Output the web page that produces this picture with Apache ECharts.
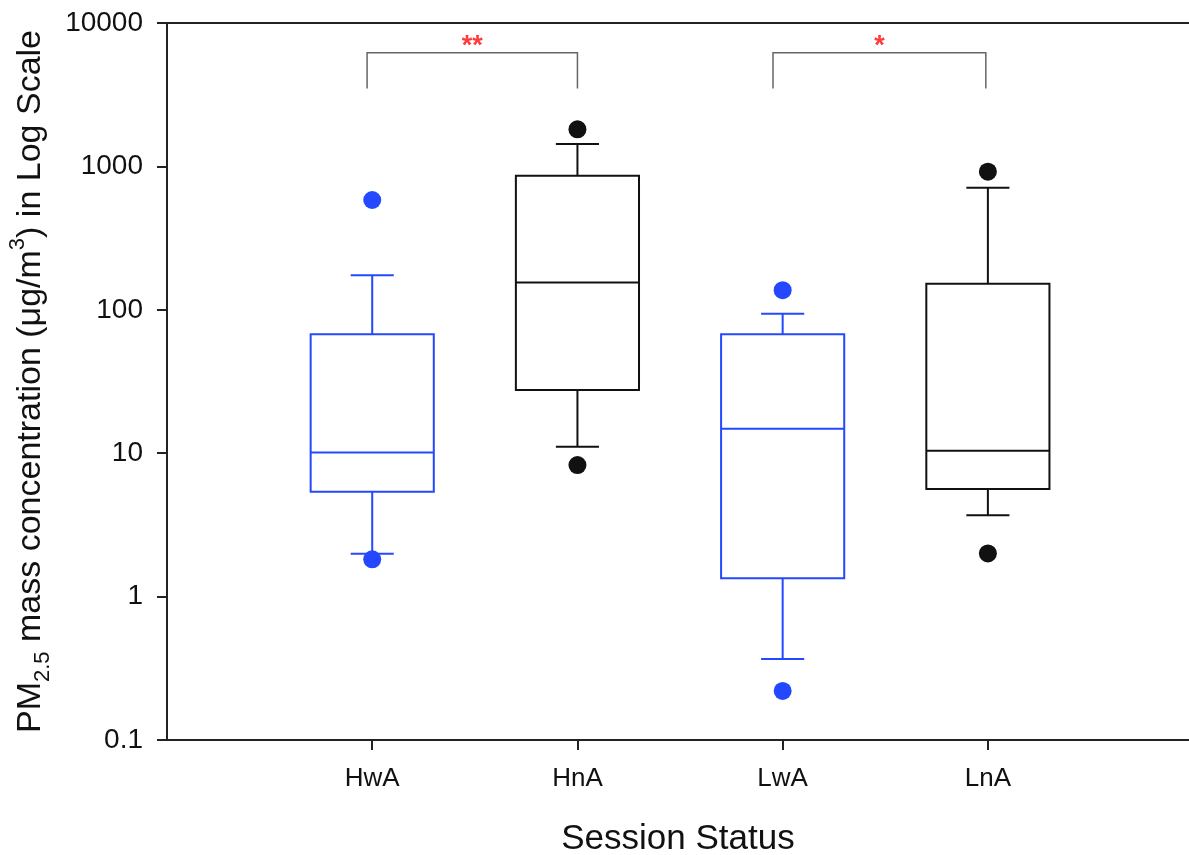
<!DOCTYPE html>
<html>
<head>
<meta charset="utf-8">
<title>PM2.5 by Session Status</title>
<script src="https://cdn.jsdelivr.net/npm/echarts@6/dist/echarts.min.js"></script>
<style>
  html, body { margin: 0; padding: 0; background: #fff; }
  #chart { width: 1189px; height: 855px; }
</style>
</head>
<body>
<div id="chart"></div>
<script>
// Session groups and their box-plot statistics (µg/m³)
const categories = ['HwA', 'HnA', 'LwA', 'LnA'];
const lowerWhisker = [1.99, 11.1, 0.367, 3.69];
const quartile1 = [5.39, 27.6, 1.34, 5.62];
const median = [10.1, 155, 14.8, 10.4];
const quartile3 = [67.5, 861, 67.5, 152];
const upperWhisker = [174, 1432, 94, 710];
const outlierLow = [1.82, 8.27, 0.22, 2.0];
const outlierHigh = [583, 1815, 137, 918];

// Significance brackets: [from, to] group positions, bracket top and leg ends, label
const sigSpans = [[0.975, 2.0], [2.953, 3.99]];
const sigTop = [6210, 6210];
const sigLegEnd = [3500, 3500];
const sigLabels = ['**', '*'];

const BLUE = '#2448ff';
const BLACK = '#111111';
const groupColors = [BLUE, BLACK, BLUE, BLACK];
const BOX_W = 0.6;   // box width in group units
const CAP_W = 0.21;  // whisker cap width in group units
const FONT = '"Liberation Sans", Arial, Helvetica, sans-serif';

const boxData = categories.map((c, i) => [
  i + 1, lowerWhisker[i], quartile1[i], median[i], quartile3[i], upperWhisker[i]
]);

const outlierData = [];
categories.forEach((c, i) => {
  outlierData.push({ value: [i + 1, outlierLow[i]], itemStyle: { color: groupColors[i], opacity: 1 } });
  outlierData.push({ value: [i + 1, outlierHigh[i]], itemStyle: { color: groupColors[i], opacity: 1 } });
});

const sigData = sigSpans.map((s, i) => [s[0], s[1], sigTop[i], sigLegEnd[i], i]);

function renderBox(params, api) {
  const x = api.value(0);
  const color = groupColors[params.dataIndex];
  const pLo = api.coord([x, api.value(1)]);
  const pQ1 = api.coord([x, api.value(2)]);
  const pMed = api.coord([x, api.value(3)]);
  const pQ3 = api.coord([x, api.value(4)]);
  const pHi = api.coord([x, api.value(5)]);
  const left = api.coord([x - BOX_W / 2, 1])[0];
  const right = api.coord([x + BOX_W / 2, 1])[0];
  const capL = api.coord([x - CAP_W / 2, 1])[0];
  const capR = api.coord([x + CAP_W / 2, 1])[0];
  const cx = pMed[0];
  const stroke = { stroke: color, lineWidth: 2, fill: null };
  return {
    type: 'group',
    children: [
      { type: 'rect', shape: { x: left, y: pQ3[1], width: right - left, height: pQ1[1] - pQ3[1] },
        style: { stroke: color, lineWidth: 2, fill: 'none' } },
      { type: 'line', shape: { x1: left, y1: pMed[1], x2: right, y2: pMed[1] }, style: stroke },
      { type: 'line', shape: { x1: cx, y1: pQ3[1], x2: cx, y2: pHi[1] }, style: stroke },
      { type: 'line', shape: { x1: cx, y1: pQ1[1], x2: cx, y2: pLo[1] }, style: stroke },
      { type: 'line', shape: { x1: capL, y1: pHi[1], x2: capR, y2: pHi[1] }, style: stroke },
      { type: 'line', shape: { x1: capL, y1: pLo[1], x2: capR, y2: pLo[1] }, style: stroke }
    ]
  };
}

function renderBracket(params, api) {
  const a = api.coord([api.value(0), api.value(2)]);
  const b = api.coord([api.value(1), api.value(2)]);
  const endY = api.coord([api.value(0), api.value(3)])[1];
  const label = sigLabels[api.value(4)];
  return {
    type: 'group',
    children: [
      { type: 'polyline',
        shape: { points: [[a[0], endY], [a[0], a[1]], [b[0], b[1]], [b[0], endY]] },
        style: { stroke: '#666666', lineWidth: 1.5, fill: null } },
      { type: 'text',
        style: { text: label, x: (a[0] + b[0]) / 2, y: a[1] - 6,
          fill: '#ff3b3b', font: 'bold 27px ' + FONT, align: 'center', verticalAlign: 'middle' } }
    ]
  };
}

const chart = echarts.init(document.getElementById('chart'), null, { renderer: 'canvas' });

chart.setOption({
  backgroundColor: '#ffffff',
  animation: false,
  grid: { left: 167, right: 0, top: 23, bottom: 115, containLabel: false, outerBoundsMode: 'none' },
  xAxis: [
    {
      type: 'value',
      min: 0,
      max: 4.98,
      name: 'Session Status',
      nameLocation: 'middle',
      nameGap: 82,
      nameTextStyle: { fontFamily: FONT, fontSize: 35, color: BLACK },
      axisLine: { show: true, onZero: false, lineStyle: { color: '#222', width: 2 } },
      axisTick: { show: true, length: 10, customValues: [1, 2, 3, 4], lineStyle: { color: '#222', width: 2 } },
      axisLabel: {
        customValues: [1, 2, 3, 4],
        formatter: v => categories[Math.round(v) - 1] || '',
        fontFamily: FONT, fontSize: 26, color: BLACK, margin: 26
      },
      splitLine: { show: false }
    },
    {
      type: 'value',
      position: 'top',
      min: 0,
      max: 4.98,
      axisLine: { show: true, onZero: false, lineStyle: { color: '#222', width: 2 } },
      axisTick: { show: false },
      axisLabel: { show: false },
      splitLine: { show: false }
    }
  ],
  yAxis: {
    type: 'log',
    logBase: 10,
    min: 0.1,
    max: 10000,
    name: '{n|PM}{sub|2.5}{n| mass concentration (μg/m}{sup|3}{n|) in Log Scale}',
    nameLocation: 'middle',
    nameGap: 112,
    nameTextStyle: {
      fontFamily: FONT, fontSize: 34, color: BLACK,
      rich: {
        n: { fontFamily: FONT, fontSize: 34, color: BLACK, lineHeight: 47 },
        sub: { fontFamily: FONT, fontSize: 22, color: BLACK, verticalAlign: 'bottom', lineHeight: 47 },
        sup: { fontFamily: FONT, fontSize: 22, color: BLACK, verticalAlign: 'top', lineHeight: 47 }
      }
    },
    axisLine: { show: true, lineStyle: { color: '#222', width: 2 } },
    axisTick: { show: true, length: 10, lineStyle: { color: '#222', width: 2 } },
    axisLabel: {
      fontFamily: FONT, fontSize: 28, color: BLACK, margin: 24,
      formatter: v => String(Number(Number(v).toPrecision(6)))
    },
    splitLine: { show: false },
    minorTick: { show: false }
  },
  series: [
    {
      type: 'custom',
      name: 'boxes',
      renderItem: renderBox,
      encode: { x: 0, y: [1, 2, 3, 4, 5] },
      data: boxData,
      z: 2
    },
    {
      type: 'scatter',
      name: 'outliers',
      symbol: 'circle',
      symbolSize: 18,
      itemStyle: { opacity: 1 },
      data: outlierData,
      z: 3
    },
    {
      type: 'custom',
      name: 'significance',
      renderItem: renderBracket,
      encode: { x: [0, 1], y: [2, 3] },
      data: sigData,
      clip: false,
      z: 4
    }
  ]
});
</script>
</body>
</html>
